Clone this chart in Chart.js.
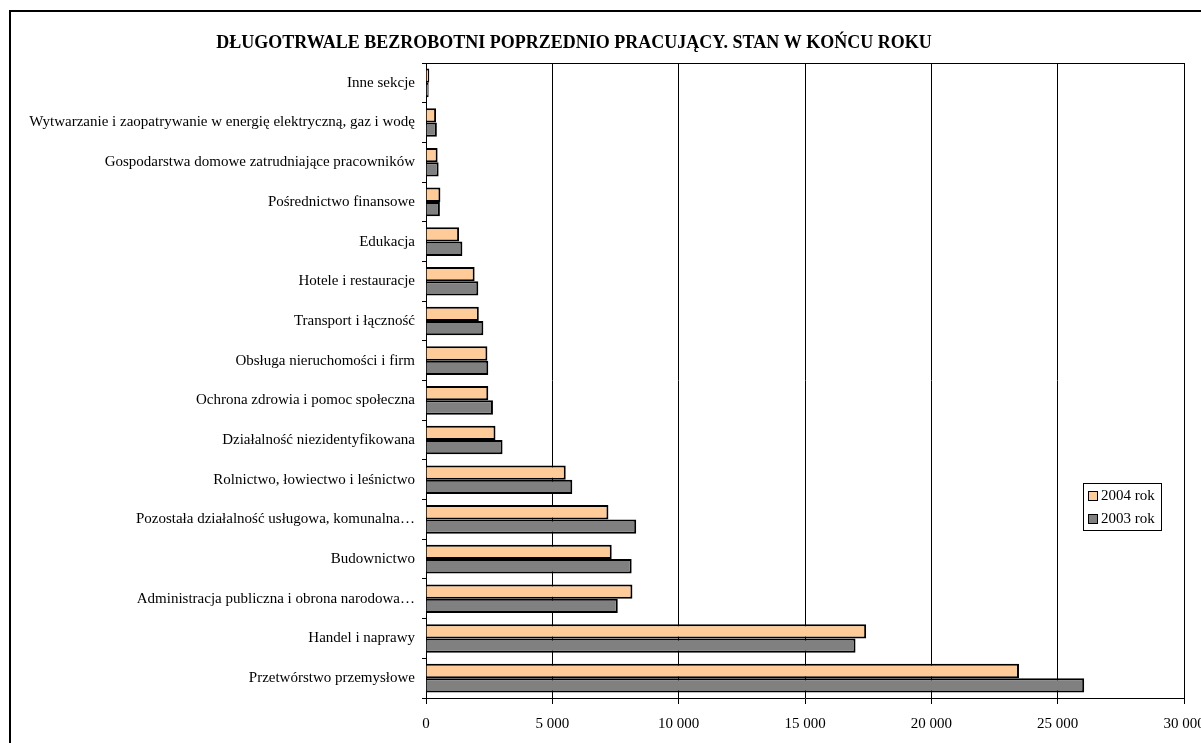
<!DOCTYPE html>
<html>
<head>
<meta charset="utf-8">
<script src="https://cdn.jsdelivr.net/npm/chart.js@4/dist/chart.umd.min.js"></script>
<style>
  html, body { margin: 0; padding: 0; background: #fff; overflow: hidden; }
  #wrap { width: 1201px; height: 743px; position: relative; }
</style>
</head>
<body>
<div id="wrap"><canvas id="c" width="1201" height="743"></canvas></div>
<script>
const titleText = 'DŁUGOTRWALE BEZROBOTNI POPRZEDNIO PRACUJĄCY. STAN W KOŃCU ROKU';
const categories = [
  'Inne sekcje',
  'Wytwarzanie i zaopatrywanie w energię elektryczną, gaz i wodę',
  'Gospodarstwa domowe zatrudniające pracowników',
  'Pośrednictwo finansowe',
  'Edukacja',
  'Hotele i restauracje',
  'Transport i łączność',
  'Obsługa nieruchomości i firm',
  'Ochrona zdrowia i pomoc społeczna',
  'Działalność niezidentyfikowana',
  'Rolnictwo, łowiectwo i leśnictwo',
  'Pozostała działalność usługowa, komunalna…',
  'Budownictwo',
  'Administracja publiczna i obrona narodowa…',
  'Handel i naprawy',
  'Przetwórstwo przemysłowe'
];
const series2004 = [130, 400, 460, 570, 1310, 1925, 2090, 2430, 2465, 2750, 5530, 7220, 7350, 8170, 17420, 23470];
const series2003 = [105, 430, 500, 550, 1440, 2070, 2270, 2465, 2650, 3030, 5790, 8320, 8140, 7590, 17000, 26050];
const seriesLabels = ['2004 rok', '2003 rok'];
const seriesColors = ['#FFCC99', '#808080'];
const xTicks = [0, 5000, 10000, 15000, 20000, 25000, 30000];

const FONT = "'Liberation Serif', 'Times New Roman', serif";

const framePlugin = {
  id: 'frame',
  beforeDraw(chart) {
    const ctx = chart.ctx;
    ctx.save();
    ctx.fillStyle = '#fff';
    ctx.fillRect(0, 0, chart.width, chart.height);
    ctx.strokeStyle = '#000';
    ctx.lineWidth = 2;
    ctx.beginPath();
    ctx.moveTo(10, 760);
    ctx.lineTo(10, 11);
    ctx.lineTo(1220, 11);
    ctx.stroke();
    ctx.restore();
  },
  afterDraw(chart) {
    const ctx = chart.ctx;
    const a = chart.chartArea;
    ctx.save();
    ctx.strokeStyle = '#000';
    ctx.lineWidth = 1;
    ctx.beginPath();
    ctx.moveTo(Math.round(a.left) + 0.5, Math.round(a.top) + 0.5);
    ctx.lineTo(Math.round(a.right) + 0.5, Math.round(a.top) + 0.5);
    ctx.lineTo(Math.round(a.right) + 0.5, Math.round(a.bottom) + 0.5);
    ctx.stroke();
    ctx.fillStyle = '#000';
    ctx.font = "bold 18px " + FONT;
    ctx.textAlign = 'center';
    ctx.textBaseline = 'middle';
    ctx.fillText(titleText, 574, 43);
    const lx = 1083, ly = 483, lw = 78, lh = 47;
    ctx.fillStyle = '#fff';
    ctx.fillRect(lx, ly, lw, lh);
    ctx.strokeStyle = '#000';
    ctx.lineWidth = 1;
    ctx.strokeRect(lx + 0.5, ly + 0.5, lw, lh);
    chart.data.datasets.forEach((ds, i) => {
      const cy = ly + 12.5 + i * 23;
      ctx.fillStyle = ds.backgroundColor;
      ctx.fillRect(1088, cy - 4.5, 9, 9);
      ctx.strokeStyle = '#000';
      ctx.strokeRect(1088.5, cy - 4.5 + 0.5, 9, 9);
      ctx.fillStyle = '#000';
      ctx.font = "15px " + FONT;
      ctx.textAlign = 'left';
      ctx.textBaseline = 'middle';
      ctx.fillText(ds.label, 1101, cy + 0.5);
    });
    ctx.restore();
  }
};

new Chart(document.getElementById('c'), {
  type: 'bar',
  data: {
    labels: categories,
    datasets: [
      { label: seriesLabels[0], data: series2004, backgroundColor: seriesColors[0], borderColor: '#000', borderWidth: 2 },
      { label: seriesLabels[1], data: series2003, backgroundColor: seriesColors[1], borderColor: '#000', borderWidth: 2 }
    ]
  },
  options: {
    indexAxis: 'y',
    responsive: false,
    animation: false,
    devicePixelRatio: 1,
    categoryPercentage: 0.72,
    barPercentage: 1.0,
    layout: { padding: { left: 0, top: 63, right: 17, bottom: 0 } },
    plugins: {
      legend: { display: false },
      title: { display: false },
      tooltip: { enabled: false }
    },
    scales: {
      x: {
        type: 'linear',
        min: 0,
        max: 30000,
        afterBuildTicks(scale) { scale.ticks = xTicks.map(v => ({ value: v })); },
        afterFit(scale) { scale.height = 45; scale.paddingLeft = 0; scale.paddingRight = 0; },
        ticks: {
          color: '#000',
          font: { family: FONT, size: 15 },
          padding: 11,
          maxRotation: 0,
          callback: v => String(v).replace(/\B(?=(\d{3})+(?!\d))/g, ' ')
        },
        grid: { color: '#000', lineWidth: 1, tickLength: 6, drawTicks: true },
        border: { color: '#000', width: 1 }
      },
      y: {
        afterFit(scale) { scale.width = 426; scale.paddingTop = 0; scale.paddingBottom = 0; },
        ticks: {
          color: '#000',
          font: { family: FONT, size: 15 },
          padding: 7,
          autoSkip: false
        },
        grid: { drawOnChartArea: false, color: '#000', tickLength: 4, offset: true },
        border: { color: '#000', width: 1 }
      }
    }
  },
  plugins: [framePlugin]
});
</script>
</body>
</html>
